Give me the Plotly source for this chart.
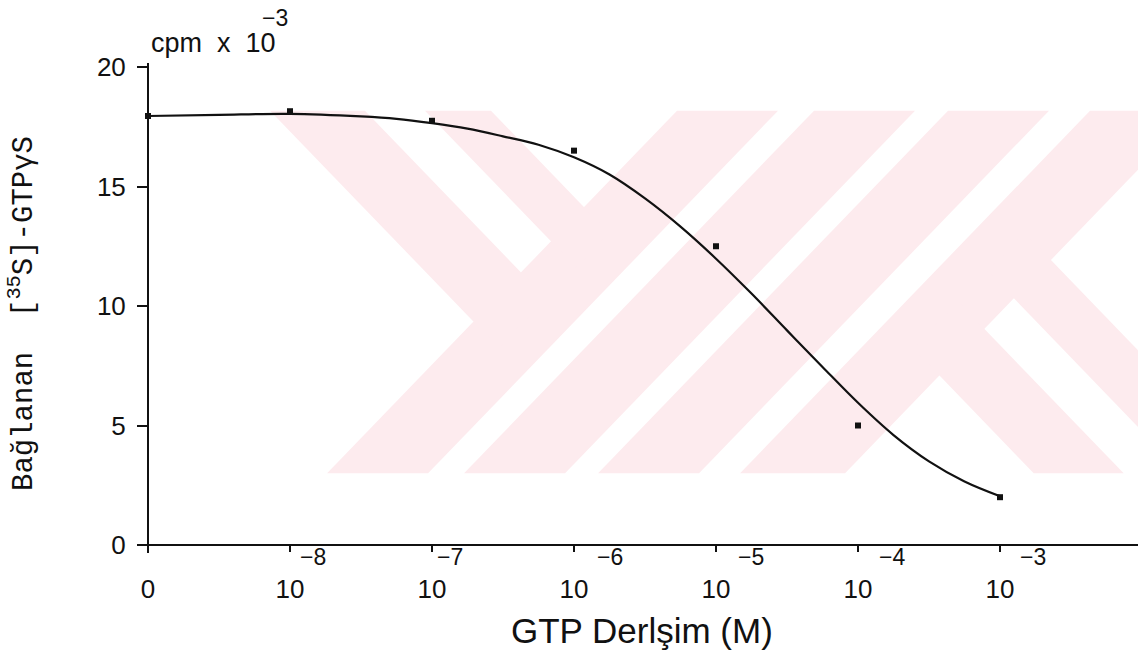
import plotly.graph_objects as go

# ---------------- data ----------------
# x positions are log10 of GTP concentration (M); the "0" point is drawn at the 10^-9 slot
conc_log = [-9, -8, -7, -6, -5, -4, -3]
tick_text = ["0", "10", "10", "10", "10", "10", "10"]
tick_exp = ["", "\u22128", "\u22127", "\u22126", "\u22125", "\u22124", "\u22123"]
bound_cpm = [17.95, 18.15, 17.75, 16.5, 12.5, 5.0, 2.0]   # x 10^-3 cpm

# fitted curve
curve_log = [-9.0, -8.5, -8.0, -7.5, -7.25, -7.0, -6.75, -6.5, -6.25, -6.0,
             -5.75, -5.5, -5.25, -5.0, -4.75, -4.5, -4.25, -4.0, -3.75,
             -3.5, -3.25, -2.99]
curve_val = [17.95, 18.0, 18.04, 17.93, 17.83, 17.65, 17.42, 17.1, 16.75, 16.22,
             15.5, 14.5, 13.32, 11.98, 10.52, 8.98, 7.45, 5.95, 4.6,
             3.5, 2.66, 2.02]

y_ticks = [0, 5, 10, 15, 20]

# ---------------- geometry helpers ----------------
W, H = 1138, 654
ML, MR, MT, MB = 138, 0, 63, 101
PW, PH = W - ML - MR, H - MT - MB


def px(x):
    return (x - ML) / PW


def py(y):
    return (H - MB - y) / PH


SANS = "Liberation Sans, Arial, Helvetica, sans-serif"
MONO = "Liberation Mono, Courier New, monospace"
INK = "#111111"
PINK = "#fdebee"

fig = go.Figure()

fig.add_trace(go.Scatter(
    x=curve_log, y=curve_val, mode="lines",
    line=dict(color=INK, width=2.2, shape="spline", smoothing=1.0),
    hoverinfo="skip", showlegend=False))

fig.add_trace(go.Scatter(
    x=conc_log, y=bound_cpm, mode="markers",
    marker=dict(symbol="square", size=6, color=INK),
    showlegend=False))

# ---------------- background watermark (pale chevrons) ----------------
Tw, Bw, k = 110.7, 473.3, 0.965


def poly(pts):
    s = "M " + " L ".join(f"{px(a):.5f},{py(b):.5f}" for a, b in pts) + " Z"
    return dict(type="path", path=s, xref="paper", yref="paper",
                fillcolor=PINK, line=dict(width=0), layer="below")


shapes = []
dx = k * (Bw - Tw)
for a, w in [(677, 101), (814, 101), (948, 101), (1090, 105)]:
    shapes.append(poly([(a, Tw), (a + w, Tw), (a + w - dx, Bw), (a - dx, Bw)]))
shapes.append(poly([(270, Tw), (365, Tw), (546.2, 298.5), (498.7, 347.7)]))
shapes.append(poly([(425, Tw), (491, Tw), (609.2, 233.2), (576.2, 267.4)]))
shapes.append(poly([(958.2, 301.7), (1123.7, Bw), (1033.7, Bw), (913.2, 348.3)]))
shapes.append(poly([(987.7, 271.2), (1024.7, 232.8), (1150, 362.7), (1150, 439.4)]))

# ---------------- annotations ----------------
ann = []
exp_shift = [0, 10, 5, 23, 22, 21, 20]
for xv, e, sh in zip(conc_log, tick_exp, exp_shift):
    if e:
        ann.append(dict(x=xv, xref="x", y=py(545), yref="paper", text=e,
                        xanchor="left", yanchor="top", xshift=sh - 2, yshift=3,
                        showarrow=False, font=dict(family=SANS, size=23, color=INK)))

ann.append(dict(x=px(149), xref="paper", y=py(43), yref="paper",
                text="cpm\u00a0\u00a0x\u00a0\u00a010", xanchor="left", yanchor="middle",
                showarrow=False, font=dict(family=SANS, size=27, color=INK)))
ann.append(dict(x=px(275), xref="paper", y=py(18), yref="paper",
                text="\u22123", xanchor="center", yanchor="middle",
                showarrow=False, font=dict(family=SANS, size=23, color=INK)))
ann.append(dict(x=px(642), xref="paper", y=py(630), yref="paper",
                text="GTP Derlşim (M)", xanchor="center", yanchor="middle",
                showarrow=False, font=dict(family=SANS, size=35, color=INK)))
ann.append(dict(x=px(22), xref="paper", y=py(314), yref="paper",
                text="Bağlanan\u00a0\u00a0[<sup>35</sup>S]-GTPγS", textangle=-90,
                xanchor="center", yanchor="middle",
                showarrow=False, font=dict(family=MONO, size=29, color=INK)))

fig.update_layout(
    width=W, height=H,
    margin=dict(l=ML, r=MR, t=MT, b=MB, pad=0),
    paper_bgcolor="white", plot_bgcolor="rgba(0,0,0,0)",
    shapes=shapes, annotations=ann, showlegend=False,
    xaxis=dict(range=[-9 - 10 / 142, -9 + 990 / 142], anchor="free", position=py(545),
               showline=True, linecolor=INK, linewidth=2,
               ticks="outside", ticklen=6, tickwidth=2, tickcolor=INK,
               tickvals=conc_log, ticktext=tick_text, ticklabelstandoff=15,
               tickfont=dict(family=SANS, size=26, color=INK),
               showgrid=False, zeroline=False, fixedrange=True),
    yaxis=dict(range=[(545 - 553) / 23.9, (545 - 63) / 23.9], anchor="free", position=px(148),
               showline=True, linecolor=INK, linewidth=2,
               ticks="outside", ticklen=10, tickwidth=2, tickcolor=INK,
               tickvals=y_ticks, ticklabelstandoff=6,
               tickfont=dict(family=SANS, size=26, color=INK),
               showgrid=False, zeroline=False, fixedrange=True),
)

fig.write_html("out.html", config={"displayModeBar": False})
